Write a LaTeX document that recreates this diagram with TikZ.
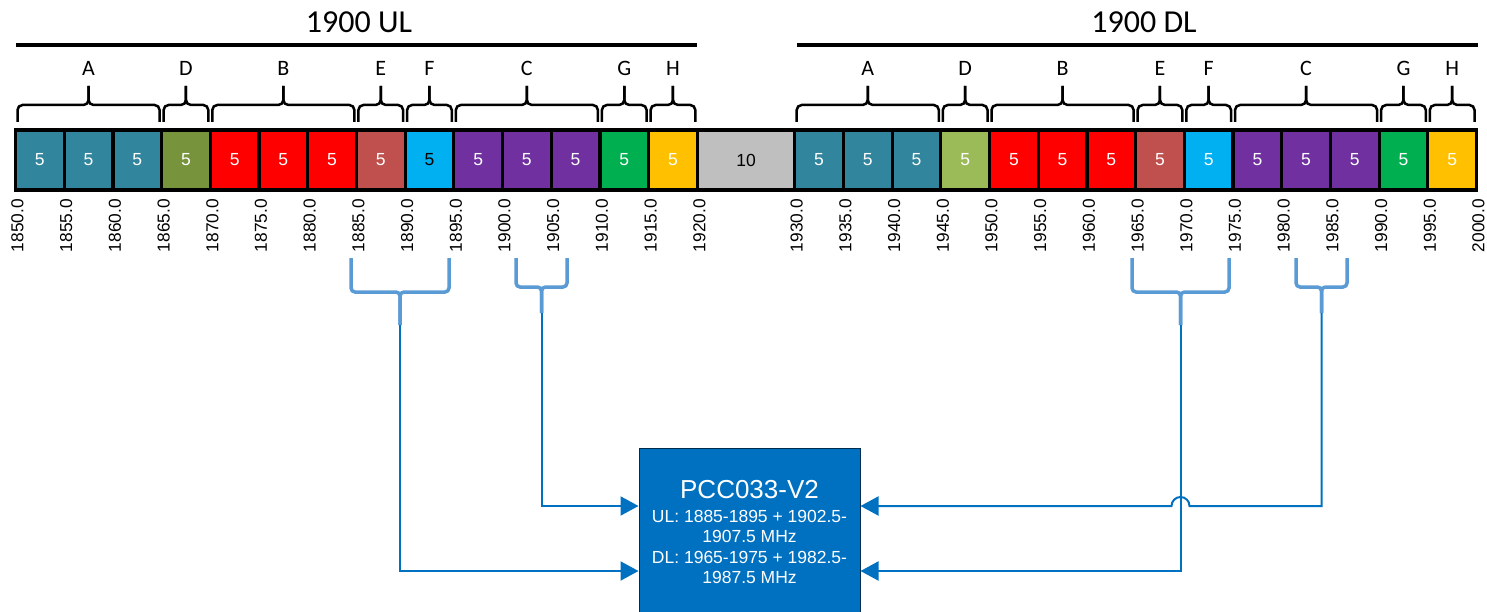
\documentclass[tikz,border=0pt]{standalone}
\usepackage{fontspec}
\setmainfont{Liberation Sans}
\newfontfamily\calfont{Carlito}
\usetikzlibrary{arrows.meta, positioning}

\definecolor{bandA}{HTML}{31859C}
\definecolor{bandDu}{HTML}{77933C}
\definecolor{bandDd}{HTML}{9BBB59}
\definecolor{bandB}{HTML}{FF0000}
\definecolor{bandE}{HTML}{C0504D}
\definecolor{bandF}{HTML}{00B0F0}
\definecolor{bandC}{HTML}{7030A0}
\definecolor{bandG}{HTML}{00B050}
\definecolor{bandH}{HTML}{FFC000}
\definecolor{gapgray}{HTML}{BFBFBF}
\definecolor{pccblue}{HTML}{0070C0}
\definecolor{pickblue}{HTML}{5B9BD5}

\begin{document}
\begin{tikzpicture}[
    x=1pt, y=-1pt,
    blk/.style={draw, line width=3.2pt, minimum width=48.7pt, minimum height=60pt, inner sep=0pt, font=\fontsize{17.5}{20}\selectfont, text=white},
    tick/.style={rotate=90, anchor=east, inner sep=0pt, font=\fontsize{17.3}{20}\selectfont},
    grp/.style={anchor=base, inner sep=0pt, font=\calfont\fontsize{22}{26}\selectfont},
    head/.style={anchor=base, inner sep=0pt, font=\calfont\fontsize{32}{38}\selectfont},
    brc/.style={line width=2.5pt, rounded corners=5pt},
    pick/.style={draw=pickblue, line width=3.5pt, rounded corners=4pt},
    feed/.style={draw=pccblue, line width=2pt, -{Triangle[length=18pt, width=19pt]}},
    pcc/.style={draw=black!60!pccblue, fill=pccblue, line width=1pt, minimum width=221pt, minimum height=168pt, text=white, align=center, font=\fontsize{17.5}{20.5}\selectfont}
]
    \useasboundingbox (0,0) rectangle (1487,612);
    \clip (0,0) rectangle (1487,612);

    % headings
    \node[head] (ul) at (359,33) {1900 UL};
    \node[head] (dl) at (1144,33) {1900 DL};
    \draw[line width=4pt] (16,45) -- (697,45);
    \draw[line width=4pt] (797,45) -- (1478,45);

    % 5 MHz blocks
    \foreach \f/\c/\t in {1850/bandA/white, 1855/bandA/white, 1860/bandA/white, 1865/bandDu/white,
        1870/bandB/white, 1875/bandB/white, 1880/bandB/white, 1885/bandE/white, 1890/bandF/black,
        1895/bandC/white, 1900/bandC/white, 1905/bandC/white, 1910/bandG/white, 1915/bandH/white,
        1930/bandA/white, 1935/bandA/white, 1940/bandA/white, 1945/bandDd/white,
        1950/bandB/white, 1955/bandB/white, 1960/bandB/white, 1965/bandE/white, 1970/bandF/white,
        1975/bandC/white, 1980/bandC/white, 1985/bandC/white, 1990/bandG/white, 1995/bandH/white}
        \node[blk, fill=\c, text=\t] (b\f) at ({15.5+(\f-1847.5)*9.74}, 160) {5};
    \node[blk, fill=gapgray, text=black, minimum width=97.4pt] (b1920) at ({15.5+75*9.74}, 160) {10};

    % frequency ticks
    \foreach \f in {1850,1855,...,1920,1930,1935,...,2000}
        \node[tick] (t\f) at ({17.5+(\f-1850)*9.74}, 199) {\f.0};

    % operator braces
    \foreach \off in {0,80}
        \foreach \lo/\hi/\lab in {1850/1865/A, 1865/1870/D, 1870/1885/B, 1885/1890/E,
            1890/1895/F, 1895/1910/C, 1910/1915/G, 1915/1920/H} {
            \pgfmathsetmacro\xa{15.5+(\lo+\off-1850)*9.74+2}
            \pgfmathsetmacro\xb{15.5+(\hi+\off-1850)*9.74-2}
            \pgfmathsetmacro\xm{(\xa+\xb)/2}
            \draw[brc] (\xa,122) -- (\xa,105) -- (\xm,105) -- (\xm,86);
            \draw[brc] (\xb,122) -- (\xb,105) -- (\xm,105) -- (\xm,86);
            \node[grp] (g\lab\off) at (\xm,76) {\lab};
        }

    % selected ranges
    \foreach \xa/\xb/\yb/\ys [count=\i] in {351/449/292/325, 516/567/287/313, 1132/1229/292/325, 1296/1347/287/313} {
        \pgfmathsetmacro\xm{(\xa+\xb)/2}
        \draw[pick] (\xa,258) -- (\xa,\yb) -- (\xm,\yb) -- (\xm,\ys);
        \draw[pick] (\xb,258) -- (\xb,\yb) -- (\xm,\yb) -- (\xm,\ys);
        \coordinate (p\i) at (\xm,\ys);
    }

    \node[pcc] (pcc) at (749.5,532) {{\fontsize{26}{30}\selectfont PCC033-V2}\\[3.5pt]
        UL: 1885-1895 + 1902.5-\\1907.5 MHz\\DL: 1965-1975 + 1982.5-\\1987.5 MHz};

    \draw[feed] (p1) |- ([yshift=-39pt]pcc.west);
    \draw[feed] (p2) |- ([yshift=26pt]pcc.west);
    \draw[feed] (p3) |- ([yshift=-39pt]pcc.east);
    \draw[feed] (p4) |- (1189.5,506) arc[start angle=0, end angle=180, radius=9pt] -- ([yshift=26pt]pcc.east);
\end{tikzpicture}
\end{document}
